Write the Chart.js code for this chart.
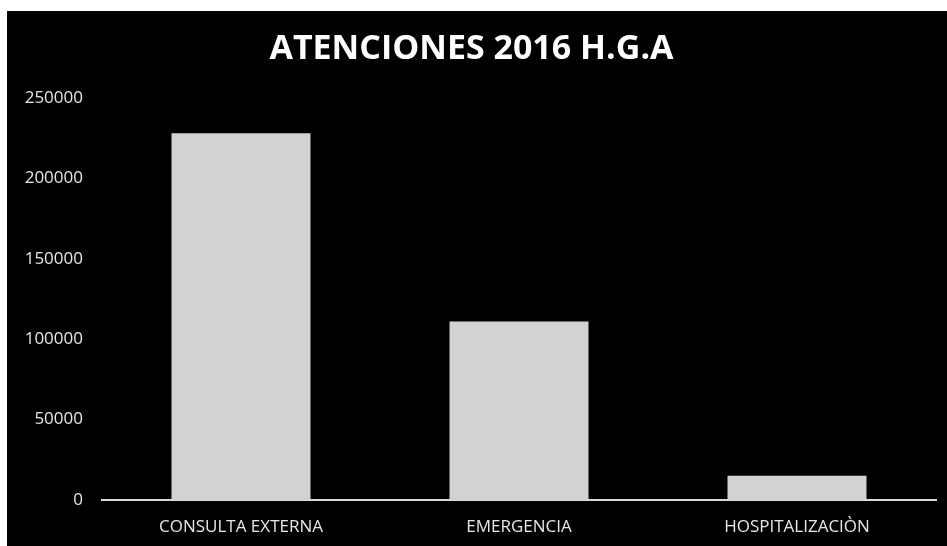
<!DOCTYPE html>
<html>
<head>
<meta charset="utf-8">
<script src="https://cdn.jsdelivr.net/npm/chart.js@4.4.0/dist/chart.umd.min.js"></script>
<style>
  body { margin: 0; background: #fff; }
  #wrap { position: absolute; left: 7px; top: 11px; width: 940px; height: 535px; background: #000; }
</style>
</head>
<body>
<div id="wrap"><canvas id="myChart" width="940" height="535"></canvas></div>
<script>
var categorias = ["CONSULTA EXTERNA", "EMERGENCIA", "HOSPITALIZACIÒN"];
var atenciones = [228000, 111000, 15000];
var titulo = "ATENCIONES 2016 H.G.A";

var ctx = document.getElementById("myChart").getContext('2d');

var myChart = new Chart(ctx, {
    type: 'bar',
    data: {
        labels: categorias,
        datasets: [{
            label: "Atenciones",
            data: atenciones,
            backgroundColor: '#d2d2d2',
            borderWidth: 0,
            barPercentage: 0.5,
            categoryPercentage: 1
        }]
    },
    options: {
        responsive: false,
        animation: false,
        layout: {
            padding: { left: 0, right: 11, top: 0, bottom: 0 }
        },
        plugins: {
            legend: { display: false },
            tooltip: { enabled: false },
            title: {
                display: true,
                text: titulo,
                color: '#ffffff',
                font: { family: 'Open Sans', size: 34, weight: 'bold' },
                padding: { top: 18, bottom: 28 }
            }
        },
        scales: {
            x: {
                grid: { display: false, drawTicks: false },
                border: { color: '#d9d9d9', width: 2 },
                ticks: {
                    color: '#e6e6e6',
                    padding: 17,
                    font: { family: 'Open Sans', size: 17 }
                },
                afterFit: function (axis) { axis.height = 46; }
            },
            y: {
                min: 0,
                max: 250000,
                grid: { display: false, drawTicks: false },
                border: { display: false },
                ticks: {
                    stepSize: 50000,
                    color: '#e6e6e6',
                    padding: 19,
                    font: { family: 'Open Sans', size: 17 },
                    callback: function (v) { return String(v); }
                },
                afterFit: function (axis) { axis.width = 95; }
            }
        }
    }
});
</script>
</body>
</html>
